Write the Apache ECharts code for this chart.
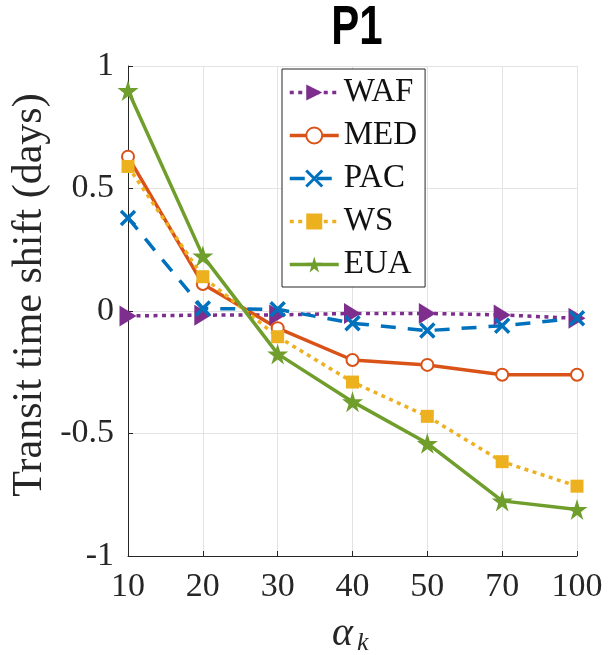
<!DOCTYPE html>
<html>
<head>
<meta charset="utf-8">
<title>P1 transit time shift</title>
<script src="https://cdn.jsdelivr.net/npm/echarts@6/dist/echarts.min.js"></script>
<style>
  html, body { margin: 0; padding: 0; background: #fff; }
  #chart { width: 608px; height: 655px; }
</style>
</head>
<body>
<div id="chart"></div>
<script>
// alpha_k values on the x axis (evenly spaced categories)
const alphaK = ['10', '20', '30', '40', '50', '70', '100'];

// transit time shift (days) per region
const WAF = [-0.02, -0.017, -0.016, -0.01, -0.01, -0.016, -0.03];
const MED = [0.63, 0.11, -0.07, -0.20, -0.22, -0.26, -0.26];
const PAC = [0.38, 0.01, 0.007, -0.05, -0.08, -0.06, -0.03];
const WS  = [0.59, 0.14, -0.105, -0.29, -0.43, -0.615, -0.715];
const EUA = [0.90, 0.225, -0.175, -0.37, -0.54, -0.775, -0.81];

const yTicks = { min: -1, max: 1, step: 0.5 };

const COLORS = {
  WAF: '#7E2F8E',
  MED: '#D95319',
  PAC: '#0072BD',
  WS:  '#EDB120',
  EUA: '#6F9E2C'
};

const SERIF = '"Liberation Serif", "DejaVu Serif", serif';
const TRI_RIGHT = 'path://M0,0 L10,6 L0,12 Z';
const CROSS = 'path://M0,0 L10,10 M10,0 L0,10';
const STAR = 'path://M50,0 L61,35 L98,35 L68,57 L79,91 L50,70 L21,91 L32,57 L2,35 L39,35 Z';
const DOTTED = [4, 4.5];
const DASHED = [15, 12];

const chart = echarts.init(document.getElementById('chart'), null, { renderer: 'canvas' });

function lineSeries(name, data, symbol, size, lineType, extraItem) {
  return {
    name: name,
    type: 'line',
    data: data,
    symbol: symbol,
    symbolSize: size,
    showAllSymbol: true,
    animation: false,
    lineStyle: { color: COLORS[name], width: 3.5, type: lineType, cap: 'butt' },
    itemStyle: Object.assign({ color: COLORS[name], borderWidth: 0 }, extraItem || {}),
    emphasis: { disabled: true }
  };
}

const axisCommon = {
  axisLine: { show: true, onZero: false, lineStyle: { color: '#262626', width: 1 } },
  axisTick: { show: true, inside: true, length: 5, lineStyle: { color: '#262626' } },
  axisLabel: { color: '#262626', fontFamily: SERIF, fontSize: 34, margin: 14 },
  splitLine: { show: true, lineStyle: { color: '#e3e3e3', width: 1 } }
};

const option = {
  animation: false,
  backgroundColor: '#fff',
  grid: {
    left: 128, right: 31, top: 66, bottom: 99,
    outerBoundsMode: 'none'
  },
  xAxis: Object.assign({
    type: 'category',
    data: alphaK,
    boundaryGap: false
  }, axisCommon),
  yAxis: Object.assign({
    type: 'value',
    min: yTicks.min,
    max: yTicks.max,
    interval: yTicks.step
  }, axisCommon),
  legend: {
    orient: 'vertical',
    left: 282,
    top: 69,
    padding: [7, 8, 6, 6],
    itemWidth: 49,
    itemHeight: 20,
    itemGap: 10,
    backgroundColor: '#fff',
    borderColor: '#262626',
    borderWidth: 1,
    borderRadius: 0,
    selectedMode: false,
    lineStyle: { width: 3.5 },
    textStyle: { fontFamily: SERIF, fontSize: 33, color: '#111', lineHeight: 30 },
    data: [
      { name: 'WAF' },
      { name: 'MED' },
      { name: 'PAC', itemStyle: { borderWidth: 3, borderColor: COLORS.PAC } },
      { name: 'WS' },
      { name: 'EUA' }
    ]
  },
  graphic: [
    {
      type: 'text',
      x: 357, y: 29,
      scaleY: 1.3,
      style: {
        text: 'P1',
        font: 'bold 42px "Liberation Sans", Arial, sans-serif',
        fill: '#000',
        textAlign: 'center',
        textVerticalAlign: 'middle'
      }
    },
    {
      type: 'text',
      x: 30, y: 295,
      rotation: Math.PI / 2,
      style: {
        text: 'Transit time shift (days)',
        font: '42px ' + SERIF,
        fill: '#262626',
        textAlign: 'center',
        textVerticalAlign: 'middle'
      }
    },
    {
      type: 'text',
      x: 332, y: 634,
      style: {
        text: 'α',
        font: 'italic 40px ' + SERIF,
        fill: '#262626',
        textAlign: 'left',
        textVerticalAlign: 'middle'
      }
    },
    {
      type: 'text',
      x: 357, y: 643,
      style: {
        text: 'k',
        font: 'italic 26px ' + SERIF,
        fill: '#262626',
        textAlign: 'left',
        textVerticalAlign: 'middle'
      }
    }
  ],
  series: [
    lineSeries('WAF', WAF, TRI_RIGHT, [17, 21], DOTTED),
    lineSeries('MED', MED, 'emptyCircle', 12, 'solid', { borderWidth: 2 }),
    lineSeries('PAC', PAC, CROSS, 14, DASHED, { borderWidth: 3.5, borderColor: COLORS.PAC }),
    lineSeries('WS', WS, 'rect', 13, DOTTED),
    lineSeries('EUA', EUA, STAR, 21, 'solid')
  ]
};

chart.setOption(option);
</script>
</body>
</html>
